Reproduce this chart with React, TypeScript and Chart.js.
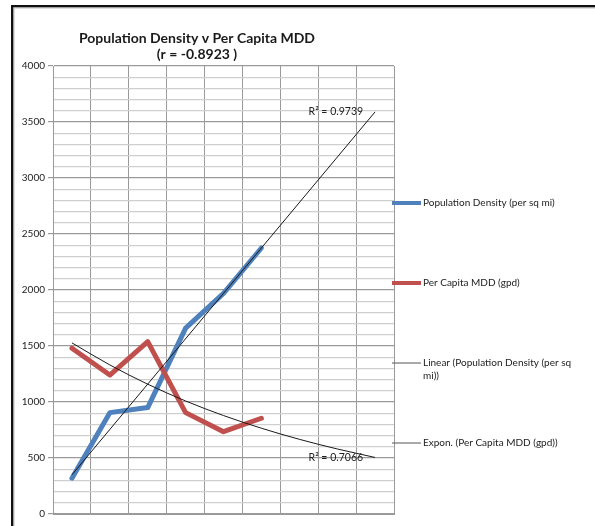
import React, { useEffect, useRef } from "react";
import { Chart, registerables } from "chart.js";

Chart.register(...registerables);

// ---- data ----
const categories = ["1", "2", "3", "4", "5", "6", "7", "8", "9"];
const populationDensity = [320, 905, 950, 1660, 1970, 2375, null, null, null];
const perCapitaMDD = [1480, 1241, 1539, 905, 735, 855, null, null, null];
// trendlines (forecast 3 periods forward)
const linearTrend = [350, null, null, null, null, null, null, null, 3590];
const exponTrend = [1528, 1331, 1159, 1009, 879, 766, 667, 581, 505];

const titleLines = ["Population Density v Per Capita MDD", "(r = -0.8923 )"];
const r2Linear = "R² = 0.9739";
const r2Expon = "R² = 0.7066";
const legendItems = [
  { lines: ["Population Density (per sq mi)"], color: "#4f81bd", width: 4 },
  { lines: ["Per Capita MDD (gpd)"], color: "#c0504d", width: 4 },
  { lines: ["Linear (Population Density (per sq", "mi))"], color: "#555555", width: 1 },
  { lines: ["Expon. (Per Capita MDD (gpd))"], color: "#555555", width: 1 },
];
const yMin = 0;
const yMax = 4000;
const yMinorStep = 100;
const yMajorStep = 500;

const FONT = "Lato, 'DejaVu Sans', sans-serif";

const decorPlugin = {
  id: "decor",
  beforeDraw(chart: any) {
    const { ctx, width, height } = chart;
    ctx.save();
    ctx.fillStyle = "#ffffff";
    ctx.fillRect(0, 0, width, height);
    ctx.restore();
  },
  afterDraw(chart: any) {
    const { ctx, chartArea, scales } = chart;
    ctx.save();
    // frame (top & left)
    ctx.fillStyle = "#111111";
    ctx.fillRect(11, 5, chart.width - 11, 2.5);
    ctx.fillRect(11, 5, 2.5, chart.height - 5);
    ctx.fillStyle = "#c0c0c0";
    ctx.fillRect(13.5, 7.5, chart.width - 13.5, 1);
    ctx.fillRect(13.5, 7.5, 1, chart.height - 7.5);

    // title
    ctx.fillStyle = "#1a1a1a";
    ctx.font = `bold 14px ${FONT}`;
    ctx.textAlign = "center";
    ctx.textBaseline = "middle";
    ctx.fillText(titleLines[0], 197, 38);
    ctx.fillText(titleLines[1], 197, 54);

    // R² labels anchored to trendline ends
    const xs = scales.x;
    const ys = scales.y;
    ctx.font = `10.5px ${FONT}`;
    ctx.fillStyle = "#222222";
    ctx.textAlign = "right";
    const lastLin = linearTrend[linearTrend.length - 1] as number;
    const lastExp = exponTrend[exponTrend.length - 1];
    const xEnd = xs.getPixelForValue(categories.length - 1);
    ctx.fillText(r2Linear, xEnd - 12, ys.getPixelForValue(lastLin));
    ctx.fillText(r2Expon, xEnd - 12, ys.getPixelForValue(lastExp));

    // legend on the right
    const legendY = [203, 283, 363, 443];
    const lx0 = chartArea.right - 2;
    const lx1 = chartArea.right + 27;
    ctx.textAlign = "left";
    ctx.font = `10px ${FONT}`;
    legendItems.forEach((it, i) => {
      const y = legendY[i];
      ctx.strokeStyle = it.color;
      ctx.lineWidth = it.width;
      ctx.beginPath();
      ctx.moveTo(lx0, y);
      ctx.lineTo(lx1, y);
      ctx.stroke();
      ctx.fillStyle = "#222222";
      it.lines.forEach((t, j) => ctx.fillText(t, lx1 + 2, y + j * 13));
    });
    ctx.restore();
  },
};

export default function App() {
  const ref = useRef<HTMLCanvasElement | null>(null);

  useEffect(() => {
    if (!ref.current) return;
    const chart = new Chart(ref.current, {
      type: "line",
      data: {
        labels: categories,
        datasets: [
          {
            label: "Linear (Population Density (per sq mi))",
            data: linearTrend,
            borderColor: "#1a1a1a",
            borderWidth: 1,
            pointRadius: 0,
            spanGaps: true,
            order: 0,
          },
          {
            label: "Expon. (Per Capita MDD (gpd))",
            data: exponTrend,
            borderColor: "#1a1a1a",
            borderWidth: 1,
            pointRadius: 0,
            cubicInterpolationMode: "monotone",
            order: 0,
          },
          {
            label: "Population Density (per sq mi)",
            data: populationDensity,
            borderColor: "#4f81bd",
            borderWidth: 5,
            pointRadius: 0,
            borderCapStyle: "round",
            borderJoinStyle: "round",
            order: 2,
          },
          {
            label: "Per Capita MDD (gpd)",
            data: perCapitaMDD,
            borderColor: "#c0504d",
            borderWidth: 5,
            pointRadius: 0,
            borderCapStyle: "round",
            borderJoinStyle: "round",
            order: 1,
          },
        ],
      },
      options: {
        responsive: false,
        animation: false,
        layout: { padding: { top: 66, right: 201, left: 0, bottom: 0 } },
        plugins: {
          legend: { display: false },
          title: { display: false },
          tooltip: { enabled: false },
        },
        scales: {
          x: {
            offset: true,
            grid: {
              offset: true,
              color: "#9a9a9a",
              lineWidth: 1,
              tickLength: 0,
              drawTicks: false,
            },
            border: { display: true, color: "#9a9a9a" },
            ticks: { display: false },
            afterFit: (s: any) => {
              s.height = 12;
            },
          },
          y: {
            min: yMin,
            max: yMax,
            grid: {
              color: (c: any) =>
                c.tick && c.tick.value % yMajorStep === 0 ? "#9a9a9a" : "#cfcfcf",
              lineWidth: 1.2,
              tickColor: (c: any) =>
                c.tick && c.tick.value % yMajorStep === 0 ? "#9a9a9a" : "rgba(0,0,0,0)",
              tickLength: 5,
            },
            border: { display: true, color: "#9a9a9a" },
            ticks: {
              stepSize: yMinorStep,
              autoSkip: false,
              padding: 3,
              color: "#222222",
              font: { family: FONT, size: 10 },
              callback: (v: any) => (Number(v) % yMajorStep === 0 ? String(v) : ""),
            },
            afterFit: (s: any) => {
              s.width = 53;
            },
          },
        },
      },
      plugins: [decorPlugin],
    });
    return () => chart.destroy();
  }, []);

  return (
    <div style={{ position: "absolute", left: 0, top: 0, width: 595, height: 526 }}>
      <canvas ref={ref} width={595} height={526} style={{ display: "block" }} />
    </div>
  );
}
